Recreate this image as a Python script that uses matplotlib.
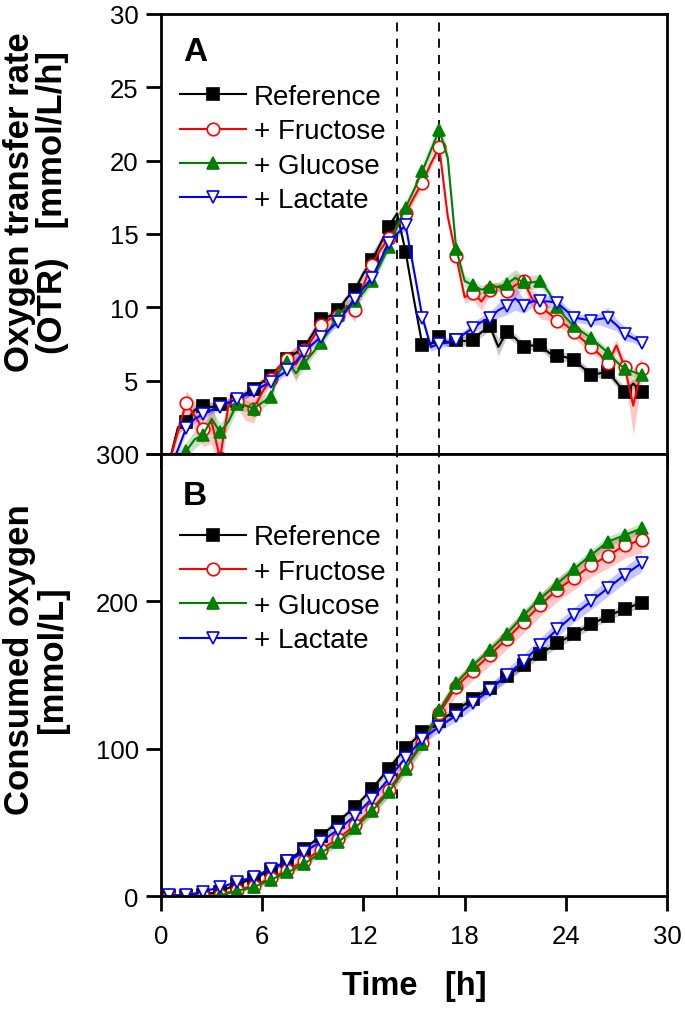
import numpy as np
import matplotlib
matplotlib.use("Agg")
import matplotlib.pyplot as plt

plt.rcParams['font.family'] = ['Liberation Sans', 'DejaVu Sans']

# ---- data -------------------------------------------------------------
labels = ["Reference", "+ Fructose", "+ Glucose", "+ Lactate"]
colors = ["black", "red", "green", "blue"]
markers = ["s", "o", "^", "v"]
facecols = ["black", "white", "green", "white"]

# OTR, every 0.5 h (markers every 1 h)
t_otr = np.arange(0.5, 28.51, 0.5)
otr_ref = [-0.5, 1.8, 2.2, 3.0, 3.3, 3.2, 3.4, 3.5, 3.6, 4.1, 4.4, 4.9, 5.3, 5.9, 6.5,
           6.9, 7.3, 8.2, 9.2, 9.4, 9.8, 10.6, 11.2, 12.3, 13.2, 14.3, 15.5, 16.4, 13.8,
           10.5, 7.4, 7.5, 8.0, 7.6, 7.8, 7.7, 7.8, 8.3, 8.7, 7.3, 8.3, 7.9, 7.3, 7.4,
           7.4, 6.9, 6.7, 6.6, 6.4, 5.9, 5.4, 5.5, 5.6, 4.9, 4.2, 4.8, 4.2]
otr_fru = [-0.5, 1.5, 3.5, 2.6, 1.7, 2.2, -0.3, 3.3, 3.6, 3.3, 3.1, 4.2, 5.1, 5.9, 6.5,
           6.1, 7.1, 7.9, 8.8, 9.2, 9.4, 10.1, 9.8, 11.5, 12.9, 13.9, 14.7, 15.5, 16.4,
           17.5, 18.5, 19.8, 20.9, 16.2, 13.5, 10.7, 11.0, 10.4, 11.2, 11.4, 11.1, 11.5,
           11.8, 10.6, 10.0, 9.6, 9.1, 8.8, 8.3, 7.8, 7.3, 6.8, 6.2, 7.4, 5.9, 3.3, 5.8]
otr_glc = [-1.0, -0.3, 0.2, 1.0, 1.3, 2.4, 1.5, 2.2, 3.4, 3.3, 3.1, 3.5, 3.9, 5.6, 6.3,
           5.5, 6.2, 6.9, 7.6, 8.5, 9.5, 10.0, 10.4, 11.0, 11.8, 12.9, 14.1, 15.5, 16.8,
           18.0, 19.3, 20.7, 22.1, 20.2, 14.0, 11.8, 11.5, 11.2, 11.4, 11.4, 11.6, 12.0,
           11.7, 11.7, 11.8, 11.0, 10.0, 9.3, 8.7, 8.3, 7.9, 7.4, 6.9, 6.3, 5.8, 5.6, 5.4]
otr_lac = [-1.0, 0.3, 1.8, 2.4, 2.7, 3.0, 3.2, 3.5, 3.75, 4.0, 4.3, 4.6, 4.9, 5.3, 5.7,
           6.3, 6.95, 7.5, 8.0, 8.5, 9.0, 9.8, 10.6, 11.3, 12.0, 13.2, 14.4, 15.0, 15.6,
           12.5, 9.3, 7.3, 7.5, 7.6, 7.8, 8.2, 8.6, 9.0, 9.3, 9.8, 10.1, 10.6, 10.1, 10.4,
           10.4, 10.4, 10.3, 9.8, 9.3, 9.2, 9.1, 9.2, 9.3, 8.8, 8.2, 7.9, 7.6]

sd_ref = [0.3, 0.4, 0.4, 0.3, 0.3, 0.3, 0.3, 0.3, 0.3, 0.3, 0.3, 0.3, 0.3, 0.3, 0.4,
          0.4, 0.3, 0.4, 0.3, 0.3, 0.3, 0.3, 0.4, 0.4, 0.5, 0.4, 0.3, 0.3, 0.3,
          0.3, 0.3, 0.3, 0.3, 0.3, 0.3, 0.3, 0.3, 0.3, 0.3, 0.6, 0.3, 0.3, 0.3, 0.3,
          0.3, 0.3, 0.3, 0.3, 0.3, 0.3, 0.3, 0.3, 0.3, 0.3, 0.4, 0.3, 0.3]
sd_fru = [0.3, 0.5, 0.8, 1.0, 1.2, 1.5, 1.2, 0.8, 0.4, 1.0, 1.0, 0.4, 0.4, 0.3, 0.3,
          1.2, 0.4, 0.4, 0.4, 0.4, 0.4, 0.4, 0.8, 0.4, 0.4, 0.3, 0.3, 0.3, 0.3,
          0.3, 0.4, 0.3, 0.3, 0.3, 0.4, 0.4, 0.5, 0.6, 0.4, 0.3, 0.4, 0.8, 0.4, 0.6,
          0.8, 0.5, 0.4, 0.4, 0.4, 0.4, 0.4, 0.3, 0.4, 0.4, 0.5, 2.0, 0.8]
sd_glc = [0.3, 0.5, 0.6, 0.6, 0.5, 0.7, 0.6, 0.5, 0.4, 0.4, 0.4, 0.4, 0.4, 0.3, 0.3,
          0.4, 0.4, 0.3, 0.3, 0.3, 0.3, 0.3, 0.3, 0.3, 0.3, 0.3, 0.3, 0.3, 0.4,
          0.4, 0.4, 0.5, 0.6, 0.5, 0.4, 0.4, 0.3, 0.3, 0.3, 0.3, 0.5, 0.6, 0.4, 0.5,
          0.4, 0.3, 0.3, 0.3, 0.3, 0.3, 0.3, 0.3, 0.3, 0.3, 0.3, 0.3, 0.3]
sd_lac = [0.25, 0.3, 0.3, 0.25, 0.25, 0.25, 0.25, 0.25, 0.25, 0.25, 0.25, 0.25, 0.25, 0.25, 0.25,
          0.25, 0.25, 0.25, 0.25, 0.25, 0.25, 0.25, 0.25, 0.25, 0.25, 0.25, 0.25, 0.25, 0.3,
          0.3, 0.3, 0.3, 0.25, 0.25, 0.25, 0.25, 0.3, 0.4, 0.4, 0.5, 0.6, 0.8, 0.5, 0.4,
          0.4, 0.4, 0.4, 0.3, 0.3, 0.3, 0.3, 0.4, 0.7, 0.4, 0.5, 0.3, 0.3]

# consumed oxygen, every 1 h
t_cum = np.arange(0.5, 28.51, 1.0)
cum_ref = [0, 0, 1, 3, 8, 12, 17.5, 24, 32, 41, 50.5, 60.5, 72.5, 86.5, 100.5, 111,
           119, 126, 134, 141, 149, 157, 164.5, 171.5, 178, 184.5, 190, 195, 199]
cum_fru = [0, 0, 0, 1, 4, 7, 12, 17.5, 24, 31.5, 39, 48, 59, 72, 88, 104,
           124, 142, 153, 163.5, 174.5, 186, 197.5, 208, 216, 224.5, 231, 238, 241.7]
cum_glc = [0.5, 0.5, 0, 0.5, 3.5, 6, 11, 16, 22, 29.5, 36.5, 46, 57.5, 70.5, 86.5, 103.5,
           126, 144.5, 156.5, 167, 178, 190.5, 202, 212, 222, 231.5, 240.5, 245, 249.5]
cum_lac = [0.5, 0.5, 3, 6, 9.5, 13, 18.5, 23.5, 30, 37, 45, 54.5, 66, 79.5, 94, 106.5,
           115, 122.5, 131, 140, 150, 159.5, 170.5, 181, 191, 200, 209, 218, 226]

csd_ref = [0.5, 0.5, 0.5, 1, 1, 1.5, 1.5, 2, 2, 2, 2.5, 2.5, 2.5, 3, 3, 3,
           3, 3, 3, 3, 3, 3, 3, 3, 3, 3, 3, 3, 3]
csd_fru = [0.5, 0.5, 0.5, 1, 1.5, 2, 2.5, 3, 3, 3.5, 4, 4, 4.5, 5, 5, 5.5,
           6, 6, 6.5, 7, 7, 7.5, 7.5, 8, 8, 8, 8.5, 8.5, 9]
csd_glc = [0.5, 0.5, 0.5, 1, 1, 1.5, 2, 2, 2.5, 2.5, 3, 3, 3, 3, 3, 3,
           3, 3, 3, 3, 3.5, 3.5, 3.5, 3.5, 3.5, 3.5, 3.5, 3.5, 3.5]
csd_lac = [0.5, 0.5, 0.5, 1, 1, 1.5, 1.5, 2, 2, 2.5, 2.5, 3, 3, 3, 3.5, 3.5,
           3.5, 4, 4, 4, 4.5, 4.5, 5, 5, 5, 5.5, 5.5, 5.5, 6]

feed_times = [14.0, 16.5]

otr_all = [otr_ref, otr_fru, otr_glc, otr_lac]
sd_all = [sd_ref, sd_fru, sd_glc, sd_lac]
cum_all = [cum_ref, cum_fru, cum_glc, cum_lac]
csd_all = [csd_ref, csd_fru, csd_glc, csd_lac]

# ---- figure -----------------------------------------------------------
fig = plt.figure(figsize=(6.85, 10.12), dpi=100)
ax1 = fig.add_axes([0.235, 0.5504, 0.7387, 0.4348])
ax2 = fig.add_axes([0.235, 0.1136, 0.7387, 0.4368])

for i in range(4):
    m = np.array(otr_all[i])
    s = np.array(sd_all[i])
    ax1.fill_between(t_otr, m - s, m + s, color=colors[i], alpha=0.22, lw=0)
    ax1.plot(t_otr, m, color=colors[i], lw=1.5, marker=markers[i], markevery=2,
             ms=9, mfc=facecols[i], mec=colors[i], mew=1.2, label=labels[i])

    c = np.array(cum_all[i])
    cs = np.array(csd_all[i])
    ax2.fill_between(t_cum, c - cs, c + cs, color=colors[i], alpha=0.22, lw=0)
    ax2.plot(t_cum, c, color=colors[i], lw=1.5, marker=markers[i],
             ms=9, mfc=facecols[i], mec=colors[i], mew=1.2, label=labels[i])

for ax in (ax1, ax2):
    for ft in feed_times:
        ax.axvline(ft, color='black', ls=(0, (5, 4)), lw=1.3, zorder=0)
    ax.set_xlim(0, 30)
    ax.set_xticks([0, 6, 12, 18, 24, 30])
    for sp in ax.spines.values():
        sp.set_linewidth(2)
    ax.tick_params(direction='out', length=11, width=2, labelsize=18.5, pad=5,
                   top=False, right=False)
    ax.legend(loc='upper left', bbox_to_anchor=(0.0, 0.885), frameon=False,
              fontsize=20, handlelength=2.35, handletextpad=0.3,
              labelspacing=0.3, borderaxespad=0.3)

ax1.set_ylim(0, 30)
ax1.set_yticks([0, 5, 10, 15, 20, 25, 30])
ax1.set_yticklabels(['', '5', '10', '15', '20', '25', '30'])
ax1.tick_params(axis='x', labelbottom=False)

ax2.set_ylim(0, 300)
ax2.set_yticks([0, 100, 200, 300])
ax2.tick_params(axis='x', pad=9)
ax2.set_xlabel('Time   [h]', fontsize=23.5, fontweight='bold', labelpad=16)

ax1.text(0.043, 0.915, 'A', transform=ax1.transAxes, fontsize=24,
         fontweight='bold', va='center')
ax2.text(0.043, 0.905, 'B', transform=ax2.transAxes, fontsize=24,
         fontweight='bold', va='center')

fig.text(0.052, 0.80, 'Oxygen transfer rate\n(OTR)   [mmol/L/h]', rotation=90,
         ha='center', va='center', multialignment='center',
         fontsize=25, fontweight='bold', linespacing=1.0)
fig.text(0.052, 0.348, 'Consumed oxygen\n[mmol/L]', rotation=90,
         ha='center', va='center', multialignment='center',
         fontsize=25, fontweight='bold', linespacing=1.0)

fig.savefig('out.png', dpi=100)
